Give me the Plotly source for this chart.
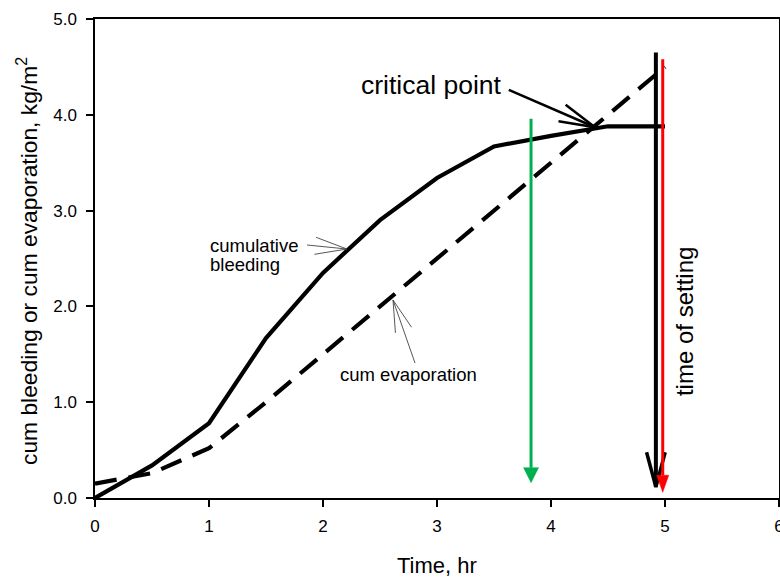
import math
import plotly.graph_objects as go

# ---------------- data ----------------
time_hr = [0, 0.5, 1, 1.5, 2, 2.5, 3, 3.5, 4, 4.5, 5]
cum_bleeding = [0.0, 0.34, 0.78, 1.67, 2.35, 2.90, 3.34, 3.67, 3.78, 3.88, 3.88]
cum_evaporation = [0.15, 0.26, 0.52, 1.0, 1.5, 2.0, 2.5, 3.0, 3.5, 4.0, 4.5]

x_ticks = [0, 1, 2, 3, 4, 5, 6]
y_ticks = [0, 1, 2, 3, 4, 5]

# vertical marker arrows: green (early), black (time of setting), red (time of setting)
vmark_x = [3.825, 4.92, 4.98]
vmark_top = [3.96, 4.65, 4.58]
vmark_tip = [0.16, 0.115, 0.06]

# critical point arrow (tail -> tip)
crit_tail = (3.63, 4.26)
crit_tip = (4.386, 3.87)
# label pointer arrows (tail -> tip)
bleed_ptr_tail = (1.86, 2.641)
bleed_ptr_tip = (2.21, 2.599)
evap_ptr_tail = (2.807, 1.409)
evap_ptr_tip = (2.614, 2.067)

# ---------------- layout geometry ----------------
W, H = 780, 577
ML, MR, MT, MB = 95, 1, 19, 79
XR = [0, 6]
YR = [0, 5]
PX_X = (W - ML - MR) / (XR[1] - XR[0])
PX_Y = (H - MT - MB) / (YR[1] - YR[0])

FONT = "Liberation Sans, Arial, sans-serif"


def unit(tail, tip):
    dx = (tip[0] - tail[0]) * PX_X
    dy = (tip[1] - tail[1]) * PX_Y
    n = math.hypot(dx, dy)
    return dx / n, dy / n


def open_head(tail, tip, length, angle):
    ux, uy = unit(tail, tip)
    pts_x, pts_y = [], []
    for s in (1, -1):
        a = math.radians(angle) * s
        rx = ux * math.cos(a) - uy * math.sin(a)
        ry = ux * math.sin(a) + uy * math.cos(a)
        pts_x.append(tip[0] - length * rx / PX_X)
        pts_y.append(tip[1] - length * ry / PX_Y)
    return [pts_x[0], tip[0], pts_x[1]], [pts_y[0], tip[1], pts_y[1]]


def filled_head(tail, tip, length, width):
    ux, uy = unit(tail, tip)
    px, py = -uy, ux
    bx = tip[0] - length * ux / PX_X
    by = tip[1] - length * uy / PX_Y
    xs = [bx + width / 2 * px / PX_X, tip[0], bx - width / 2 * px / PX_X, bx + width / 2 * px / PX_X]
    ys = [by + width / 2 * py / PX_Y, tip[1], by - width / 2 * py / PX_Y, by + width / 2 * py / PX_Y]
    return xs, ys, (bx, by)


fig = go.Figure()

# main curves
fig.add_trace(go.Scatter(x=time_hr, y=cum_bleeding, mode="lines",
                         line=dict(color="black", width=4.2), hoverinfo="skip"))
fig.add_trace(go.Scatter(x=time_hr, y=cum_evaporation, mode="lines",
                         line=dict(color="black", width=4.2, dash="22px,12px"), hoverinfo="skip"))


def line(xs, ys, color, width):
    fig.add_trace(go.Scatter(x=xs, y=ys, mode="lines", line=dict(color=color, width=width),
                             hoverinfo="skip"))


def fill(xs, ys, color):
    fig.add_trace(go.Scatter(x=xs, y=ys, mode="lines", fill="toself", fillcolor=color,
                             line=dict(color=color, width=0.5), hoverinfo="skip"))


# green arrow (filled head)
g_tail = (vmark_x[0], vmark_top[0])
g_tip = (vmark_x[0], vmark_tip[0])
hx, hy, base = filled_head(g_tail, g_tip, 15, 15)
line([g_tail[0], base[0]], [g_tail[1], base[1]], "#00b050", 3)
fill(hx, hy, "#00b050")

# black arrow (open head)
k_tail = (vmark_x[1], vmark_top[1])
k_tip = (vmark_x[1], vmark_tip[1])
line([k_tail[0], k_tip[0]], [k_tail[1], k_tip[1]], "black", 4)
bx_, by_ = open_head(k_tail, k_tip, 36, 15)
line(bx_, by_, "black", 3.5)

# red arrow (filled head)
r_tail = (vmark_x[2], vmark_top[2])
r_tip = (vmark_x[2], vmark_tip[2])
hx, hy, base = filled_head(r_tail, r_tip, 17, 12)
line([r_tail[0], base[0]], [r_tail[1], base[1]], "#ff0000", 3)
fill(hx, hy, "#ff0000")

# critical point arrow
line([crit_tail[0], crit_tip[0]], [crit_tail[1], crit_tip[1]], "black", 2.5)
bx_, by_ = open_head(crit_tail, crit_tip, 37, 14)
line(bx_, by_, "black", 2.5)

# label pointers (thin)
for tl, tp in ((bleed_ptr_tail, bleed_ptr_tip), (evap_ptr_tail, evap_ptr_tip)):
    line([tl[0], tp[0]], [tl[1], tp[1]], "#444444", 0.9)
    bx_, by_ = open_head(tl, tp, 33, 15)
    line(bx_, by_, "#444444", 0.9)

annos = [
    dict(text="critical point", x=2.956, y=4.31, xref="x", yref="y", showarrow=False,
         font=dict(size=26.5, color="black", family=FONT), xanchor="center", yanchor="middle"),
    dict(text="cumulative", x=0.99, y=2.637, xref="x", yref="y", showarrow=False,
         font=dict(size=18.5, color="black", family=FONT), xanchor="left", yanchor="middle"),
    dict(text="bleeding", x=0.99, y=2.44, xref="x", yref="y", showarrow=False,
         font=dict(size=18.5, color="black", family=FONT), xanchor="left", yanchor="middle"),
    dict(text="cum evaporation", x=2.754, y=1.29, xref="x", yref="y", showarrow=False,
         font=dict(size=18.5, color="black", family=FONT), xanchor="center", yanchor="middle"),
    dict(text="time of setting", x=5.167, y=1.837, xref="x", yref="y", showarrow=False,
         textangle=-90, font=dict(size=24, color="black", family=FONT),
         xanchor="center", yanchor="middle"),
    dict(text="Time, hr", x=3.0, y=0, xref="x", yref="paper", yshift=-67, showarrow=False,
         font=dict(size=22, color="black", family=FONT), xanchor="center", yanchor="middle"),
    dict(text="cum bleeding or cum evaporation, kg/m<sup>2</sup>", x=0, y=0.4948,
         xref="paper", yref="paper", xshift=-67, showarrow=False, textangle=-90,
         font=dict(size=22.8, color="black", family=FONT), xanchor="center", yanchor="middle"),
]

fig.update_layout(
    width=W, height=H, autosize=False,
    margin=dict(l=ML, r=MR, t=MT, b=MB, pad=0, autoexpand=False),
    paper_bgcolor="white", plot_bgcolor="white",
    showlegend=False,
    font=dict(family=FONT, color="black"),
    annotations=annos,
    xaxis=dict(range=XR, tickvals=x_ticks, ticktext=[str(v) for v in x_ticks],
               ticks="outside", ticklen=7, tickwidth=1.5, tickcolor="black",
               showline=True, linecolor="black", linewidth=1.5, mirror=True,
               showgrid=False, zeroline=False, ticklabelstandoff=5,
               ticklabeloverflow="allow", automargin=False,
               tickfont=dict(size=17, color="black", family=FONT)),
    yaxis=dict(range=YR, tickvals=y_ticks, ticktext=[f"{v:.1f}" for v in y_ticks],
               ticks="outside", ticklen=7, tickwidth=1.5, tickcolor="black",
               showline=True, linecolor="black", linewidth=1.5, mirror=True,
               showgrid=False, zeroline=False, ticklabelstandoff=6, automargin=False,
               tickfont=dict(size=17, color="black", family=FONT)),
)

fig.write_html(
    "out.html",
    config={"displayModeBar": False},
    post_script="document.body.style.margin='0';document.body.style.overflow='hidden';",
)
